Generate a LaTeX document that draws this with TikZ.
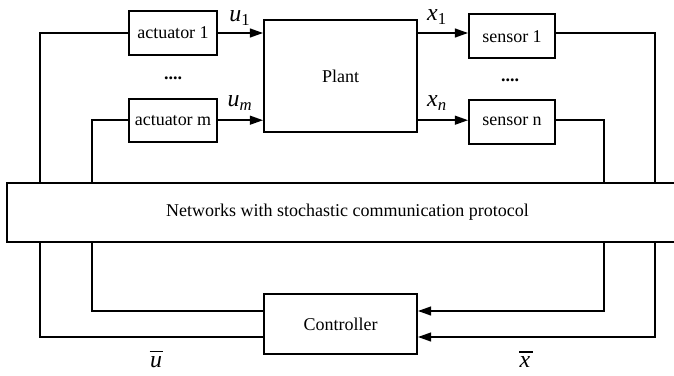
\documentclass[tikz,border=0pt]{standalone}
\usepackage{fontspec}
\setmainfont{Liberation Serif}
\usetikzlibrary{arrows.meta,calc}

% barred signal name
\newcommand{\barvar}[1]{\makebox[0pt][l]{\hspace{-0.02em}\rule[0.62em]{0.56em}{1.3pt}}\textit{#1}}

\begin{document}
\begin{tikzpicture}[
  every node/.style={font=\fontsize{12.8}{14}\selectfont},
  blk/.style={draw,line width=1.3pt,minimum width=2.2cm,minimum height=1.08cm,inner sep=0pt},
  wire/.style={line width=1.3pt},
  sig/.style={line width=1.3pt,-{Triangle[length=3.3mm,width=2.2mm]}},
  var/.style={font=\fontsize{17}{18}\selectfont,inner sep=0pt},
  dots/.style={font=\fontsize{12.8}{14}\selectfont\bfseries,inner sep=0pt}
]

% ---- canvas ----
\useasboundingbox (0,0) rectangle (16.85,9.375);

% ---- actuators ----
\node[blk] (act1) at (4.325,8.55) {actuator 1};
\node[blk] (actm) at (4.325,6.37) {actuator m};
\node[dots] (adots) at (4.325,7.42) {....};

% ---- plant ----
\node[blk,minimum width=3.825cm,minimum height=2.8cm] (plant) at (8.5125,7.475) {Plant};

% ---- sensors ----
\node[blk,minimum width=2.15cm,minimum height=1.1cm] (sen1) at (12.8,8.47) {sensor 1};
\node[blk,minimum width=2.15cm,minimum height=1.1cm] (senn) at (12.8,6.33) {sensor n};
\node[dots] (sdots) at (12.75,7.37) {....};

% ---- network ----
\node[blk,minimum width=17.025cm,minimum height=1.475cm] (net) at (8.6875,4.0625)
  {Networks with stochastic communication protocol};

% ---- controller ----
\node[blk,minimum width=3.825cm,minimum height=1.5cm] (ctrl) at (8.5125,1.275) {Controller};

% ---- lanes of the feedback wires ----
\coordinate (lane1) at (1.0,0);
\coordinate (lane2) at (2.3,0);
\coordinate (lane3) at (15.1,0);
\coordinate (lane4) at (16.375,0);

% ---- plant inputs and outputs ----
\draw[sig] (act1.east) -- (act1.east -| plant.west);
\draw[sig] (actm.east) -- (actm.east -| plant.west);
\draw[sig] (act1.east -| plant.east) -- (act1.east -| sen1.west);
\draw[sig] (actm.east -| plant.east) -- (actm.east -| senn.west);

\node[var] (lu1) at (6.0,8.92) {\itshape u\textsubscript{\upshape 1}};
\node[var] (lum) at (6.0,6.8) {\itshape u\textsubscript{m}};
\node[var] (lx1) at (10.925,8.95) {\itshape x\textsubscript{\upshape 1}};
\node[var] (lxn) at (10.925,6.8) {\itshape x\textsubscript{n}};

% ---- actuator side ----
\draw[wire] (act1.west) -| (lane1 |- net.north);
\draw[wire] (lane1 |- net.south) |- ([yshift=-3.25mm]ctrl.west);
\draw[wire] (actm.west) -| (lane2 |- net.north);
\draw[wire] (lane2 |- net.south) |- ([yshift=3.25mm]ctrl.west);

% ---- sensor side ----
\draw[wire] (act1.east -| sen1.east) -| (lane4 |- net.north);
\draw[sig] (lane4 |- net.south) |- ([yshift=-3.25mm]ctrl.east);
\draw[wire] (actm.east -| senn.east) -| (lane3 |- net.north);
\draw[sig] (lane3 |- net.south) |- ([yshift=3.25mm]ctrl.east);

\node[var] (lub) at (3.9,0.4) {\barvar{u}};
\node[var] (lxb) at (13.125,0.4) {\barvar{x}};

\end{tikzpicture}
\end{document}
